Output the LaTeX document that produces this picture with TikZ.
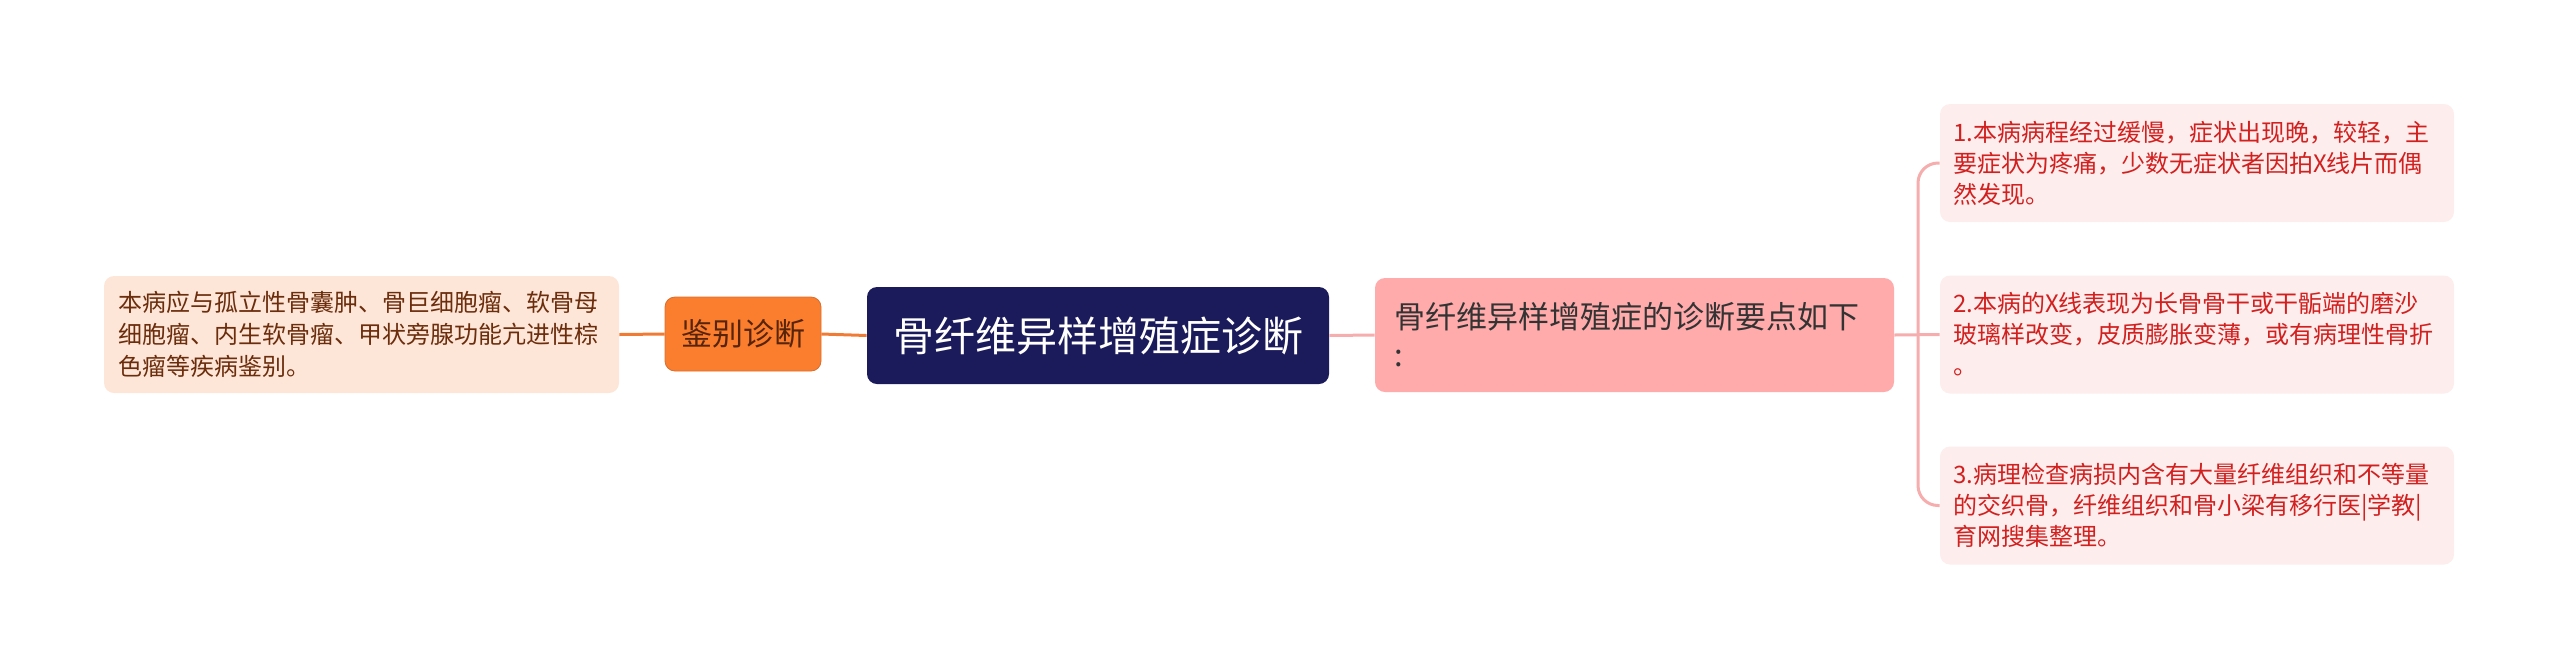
\documentclass[tikz,border=0pt]{standalone}
\usepackage{fontspec}
\setmainfont{Noto Sans CJK SC}
\definecolor{lfill}{HTML}{FDE6D8}
\definecolor{ltext}{HTML}{6B2D0C}
\definecolor{orfill}{HTML}{FB7E2E}
\definecolor{orline}{HTML}{F07B35}
\definecolor{navy}{HTML}{1B1A5A}
\definecolor{pkfill}{HTML}{FFABAB}
\definecolor{pkline}{HTML}{F5AEAD}
\definecolor{cfill}{HTML}{FDEDED}
\definecolor{ctext}{HTML}{D2201F}
\begin{document}
\begin{tikzpicture}[x=0.5pt,y=-0.5pt,
  box/.style={rounded corners=5pt, inner ysep=0pt},
  leftbox/.style={box, fill=lfill, text=ltext, minimum width=257.5pt, minimum height=58.5pt,
    text width=243.5pt, inner xsep=7pt, align=left, font=\fontsize{12pt}{16pt}\selectfont},
  orbox/.style={box, fill=orfill, draw=orline!80!black!60!orfill, line width=0.4pt, text=ltext!80!black, minimum width=78pt, minimum height=37pt,
    inner xsep=0pt, font=\fontsize{15.5pt}{19pt}\selectfont},
  rootbox/.style={box, fill=navy, text=white, minimum width=231pt, minimum height=48.5pt,
    inner xsep=0pt, font=\fontsize{20.5pt}{24pt}\selectfont},
  mainbox/.style={box, fill=pkfill, text=black!80, minimum width=259.5pt, minimum height=57pt,
    text width=240.5pt, inner xsep=9.5pt, align=left, font=\fontsize{15.5pt}{19pt}\selectfont},
  childbox/.style={box, fill=cfill, text=ctext, minimum width=257pt, minimum height=59pt,
    text width=244pt, inner xsep=6.5pt, align=left, font=\fontsize{12pt}{15.5pt}\selectfont},
  orcon/.style={draw=orline, line width=1.5pt},
  pkcon/.style={draw=pkline, line width=1.5pt}]
\useasboundingbox (0,0) rectangle (2560,671);

\node[leftbox] (l) at (361.5,334.5) {本病应与孤立性骨囊肿、骨巨细胞瘤、软骨母\\细胞瘤、内生软骨瘤、甲状旁腺功能亢进性棕\\色瘤等疾病鉴别。};
\node[orbox] (o) at (743,334) {鉴别诊断};
\node[rootbox] (r) at (1098,335.5) {骨纤维异样增殖症诊断};
\node[mainbox] (m) at (1634.5,335) {骨纤维异样增殖症的诊断要点如下\\:};
\node[childbox] (c1) at (2197,163) {1.本病病程经过缓慢，症状出现晚，较轻，主\\要症状为疼痛，少数无症状者因拍X线片而偶\\然发现。};
\node[childbox] (c2) at (2197,334.5) {2.本病的X线表现为长骨骨干或干骺端的磨沙\\玻璃样改变，皮质膨胀变薄，或有病理性骨折\\。};
\node[childbox] (c3) at (2197,505.5) {3.病理检查病损内含有大量纤维组织和不等量\\的交织骨，纤维组织和骨小梁有移行医|学教|\\育网搜集整理。};

\coordinate (tk) at (1918,335);

\draw[orcon] (l.east) -- (o.west);
\draw[orcon] (o.east) -- (r.west);
\draw[pkcon] (r.east) -- (m.west);
\draw[pkcon] (m.east) -- (c2.west);
\draw[pkcon, rounded corners=10pt] (c1.west) -| (tk) |- (c3.west);
\end{tikzpicture}
\end{document}
